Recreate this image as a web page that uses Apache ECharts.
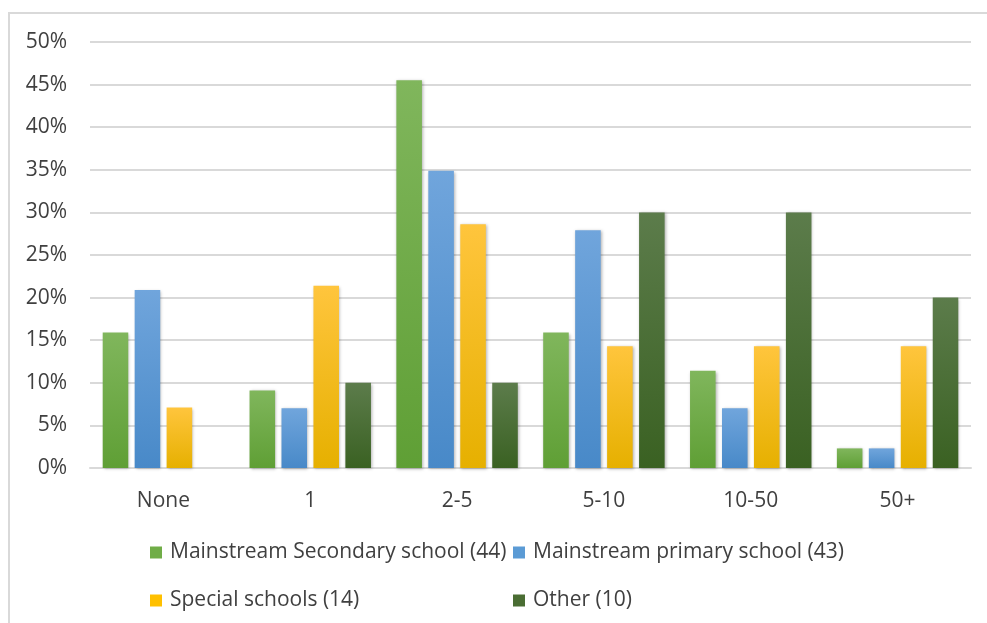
<!DOCTYPE html>
<html><head><meta charset="utf-8">
<script src="https://cdn.jsdelivr.net/npm/echarts@6/dist/echarts.min.js"></script>
<style>html,body{margin:0;padding:0;background:#fff}#c{width:987px;height:623px}</style>
</head><body><div id="c"></div>
<script>
const categories = ['None', '1', '2-5', '5-10', '10-50', '50+'];
const seriesNames = ['Mainstream Secondary school (44)', 'Mainstream primary school (43)', 'Special schools (14)', 'Other (10)'];
const secondary = [15.9, 9.1, 45.5, 15.9, 11.4, 2.3];
const primary = [20.9, 7.0, 34.9, 27.9, 7.0, 2.3];
const special = [7.1, 21.4, 28.6, 14.3, 14.3, 14.3];
const other = [0, 10, 10, 30, 30, 20];
const yTicks = [0, 5, 10, 15, 20, 25, 30, 35, 40, 45, 50];

const FONT = 'Open Sans';
const TXT = '#404040';
const grads = [
  ['#80b65c', '#5f9f35'],
  ['#70a5dc', '#4889c8'],
  ['#ffc53d', '#e6b000'],
  ['#5c7c4b', '#3a6122']
];
const solid = ['#70ad47', '#5b9bd5', '#ffc000', '#4a6d33'];
const dataArr = [secondary, primary, special, other];

const chart = echarts.init(document.getElementById('c'), null, {renderer: 'canvas'});
const series = dataArr.map((d, i) => ({
  name: seriesNames[i],
  type: 'bar',
  data: d,
  barGap: '25%',
  barCategoryGap: '17.3%',
  itemStyle: {
    color: new echarts.graphic.LinearGradient(0, 0, 0, 1, [
      {offset: 0, color: grads[i][0]}, {offset: 1, color: grads[i][1]}
    ]),
    shadowBlur: 3, shadowColor: 'rgba(0,0,0,0.3)', shadowOffsetX: 1, shadowOffsetY: 1
  }
}));
const legendPos = [[150, 542], [513, 542], [150, 590], [513, 590]];
const legends = seriesNames.map((n, i) => ({
  data: [{name: n, itemStyle: {color: solid[i]}}],
  left: legendPos[i][0], top: legendPos[i][1],
  icon: 'rect', itemWidth: 12, itemHeight: 12,
  padding: 0,
  textStyle: {fontFamily: FONT, fontSize: 21, color: TXT, padding: [0, 0, 0, 3]}
}));

chart.setOption({
  animation: false,
  graphic: [{
    type: 'rect', shape: {x: 9, y: 13, width: 1000, height: 700},
    style: {fill: null, stroke: '#d9d9d9', lineWidth: 2}, silent: true
  }],
  grid: {left: 90, right: 16, top: 42, bottom: 155},
  legend: legends,
  xAxis: {
    type: 'category', data: categories,
    axisLine: {lineStyle: {color: '#d9d9d9', width: 2}},
    axisTick: {show: false},
    axisLabel: {fontFamily: FONT, fontSize: 21, color: TXT, margin: 23}
  },
  yAxis: {
    type: 'value', min: 0, max: 50, interval: 5,
    axisLine: {show: false}, axisTick: {show: false},
    splitLine: {lineStyle: {color: '#d9d9d9', width: 2}},
    axisLabel: {fontFamily: FONT, fontSize: 21, color: TXT, margin: 23,
      formatter: v => yTicks.includes(v) ? v + '%' : ''}
  },
  series: series
});
</script></body></html>
